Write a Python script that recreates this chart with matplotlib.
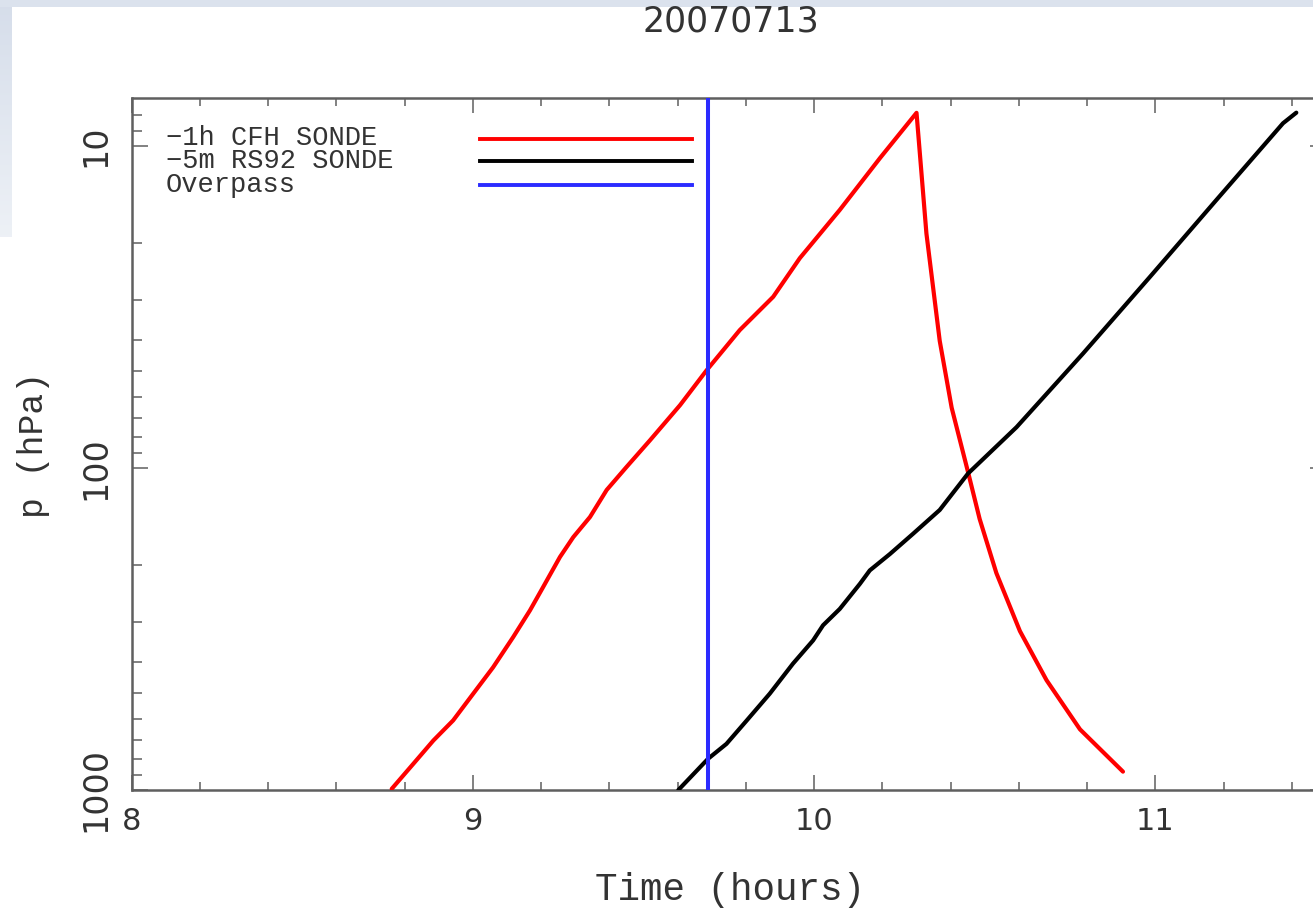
import numpy as np
import matplotlib
matplotlib.use("Agg")
import matplotlib.pyplot as plt
from matplotlib.ticker import FixedLocator, MultipleLocator, LogLocator, NullFormatter, FixedFormatter
from matplotlib.lines import Line2D

# ---------------- data ----------------
title = "20070713"
x_label = "Time (hours)"
y_label = "p (hPa)"

cfh_time = [8.762, 8.825, 8.884, 8.942, 9.001, 9.059, 9.118, 9.167, 9.206, 9.255,
            9.294, 9.343, 9.392, 9.450, 9.519, 9.607, 9.685, 9.782, 9.880, 9.958,
            10.075, 10.193, 10.300,
            10.329, 10.368, 10.403, 10.451, 10.485, 10.534, 10.603, 10.681, 10.779, 10.905]
cfh_pres = [992, 830, 702, 608, 502, 416, 335, 277, 234, 189,
            164, 142, 117, 99.3, 82, 63.8, 49.7, 37.3, 29.4, 22.3,
            15.8, 10.9, 7.89,
            18.7, 40.3, 65.0, 103, 144, 212, 321, 456, 648, 877]

rs92_time = [9.602, 9.689, 9.743, 9.802, 9.870, 9.938, 9.997, 10.026, 10.075, 10.134,
             10.163, 10.222, 10.290, 10.368, 10.451, 10.593, 10.788, 10.984, 11.179,
             11.374, 11.413]
rs92_pres = [1000, 800, 719, 609, 502, 405, 343, 308, 274, 229,
             208, 185, 160, 135, 104, 74.7, 44.1, 25.5, 14.7,
             8.5, 7.88]

overpass_time = 9.69

legend_labels = ["\u22121h CFH SONDE", "\u22125m RS92 SONDE", "Overpass"]
series_colors = ["#ff0000", "#000000", "#2b2bff"]

x_major_ticks = [8, 9, 10, 11]
x_tick_labels = ["8", "9", "10", "11"]
y_major_ticks = [10, 100, 1000]
y_tick_labels = ["10", "100", "1000"]
x_limits = (8.0, 11.5)
y_limits = (1000, 7.08)

# ---------------- figure ----------------
W, H = 1313, 909
fig = plt.figure(figsize=(W / 100, H / 100), dpi=100)
fig.patch.set_facecolor("white")

# slide background (light blue-grey band on top and left)
top_band = np.ones((7, W, 3)) * np.array([0.86, 0.89, 0.93])
fig.figimage(top_band, xo=0, yo=H - 7, origin="upper", zorder=0)
g = np.linspace(0, 1, 230)[:, None, None]
c0 = np.array([0.84, 0.87, 0.92])
c1 = np.array([0.93, 0.945, 0.965])
left_band = (c0 * (1 - g) + c1 * g) * np.ones((230, 12, 3))
fig.figimage(left_band, xo=0, yo=H - 237, origin="upper", zorder=0)

ax_left, ax_right, ax_top, ax_bottom = 131.7, 1326.0, 97.7, 790.0
ax = fig.add_axes([ax_left / W, 1 - ax_bottom / H,
                   (ax_right - ax_left) / W, (ax_bottom - ax_top) / H])

text_color = "#333333"
axis_color = "#5f5f5f"

ax.plot(cfh_time, cfh_pres, color=series_colors[0], lw=3.0, solid_capstyle="round",
        solid_joinstyle="round", zorder=3)
ax.plot(rs92_time, rs92_pres, color=series_colors[1], lw=3.0, solid_capstyle="round",
        solid_joinstyle="round", zorder=4)
ax.axvline(overpass_time, color=series_colors[2], lw=2.9, zorder=5)

ax.set_yscale("log")
ax.set_xlim(*x_limits)
ax.set_ylim(*y_limits)

for s in ax.spines.values():
    s.set_color(axis_color)
    s.set_linewidth(1.8)

ax.xaxis.set_major_locator(FixedLocator(x_major_ticks))
ax.xaxis.set_major_formatter(FixedFormatter(x_tick_labels))
ax.xaxis.set_minor_locator(MultipleLocator(0.2))
ax.yaxis.set_major_locator(FixedLocator(y_major_ticks))
ax.yaxis.set_major_formatter(FixedFormatter(y_tick_labels))
ax.yaxis.set_minor_locator(LogLocator(base=10, subs=np.arange(2, 10)))
ax.yaxis.set_minor_formatter(NullFormatter())

ax.tick_params(which="both", direction="in", top=True, right=True,
               color=axis_color, labelcolor=text_color, width=1.1)
ax.tick_params(axis="x", which="major", length=10.5, pad=12, labelsize=22)
ax.tick_params(axis="x", which="minor", length=5.5)
ax.tick_params(axis="y", which="major", length=11.5, pad=14, labelsize=24)
ax.tick_params(axis="y", which="minor", length=7)
for lab in ax.get_yticklabels():
    lab.set_rotation(90)
    lab.set_va("center")
for lab in ax.get_xticklabels() + ax.get_yticklabels():
    lab.set_family("DejaVu Sans")

serif = ["Liberation Mono", "DejaVu Sans Mono"]
ax.set_xlabel(x_label, fontsize=27, family=serif, color=text_color)
ax.xaxis.set_label_coords(0.501, -0.118)
ax.set_ylabel(y_label, fontsize=25, family=serif, color=text_color)
ax.yaxis.set_label_coords(-0.068, 0.498)

fig.text(731 / W, 1 - 21 / H, title, ha="center", va="center", fontsize=25,
         color=text_color, family="DejaVu Sans")

# legend (text on the left, line samples on the right)
def ax_y(py):
    return (ax_bottom - py) / (ax_bottom - ax_top)

def ax_x(px):
    return (px - ax_left) / (ax_right - ax_left)

legend_line_rows_px = [139.3, 161.3, 185.3]
legend_text_rows_px = [138.0, 161.0, 185.0]
for lab, col, py, ty in zip(legend_labels, series_colors, legend_line_rows_px, legend_text_rows_px):
    ax.text(ax_x(166), ax_y(ty), lab, transform=ax.transAxes, ha="left", va="center",
            fontsize=19.5, family=serif, color=text_color)
    ax.add_line(Line2D([ax_x(480), ax_x(692)], [ax_y(py), ax_y(py)], transform=ax.transAxes,
                       color=col, lw=2.8, zorder=6))

fig.savefig("out.png", dpi=100)
